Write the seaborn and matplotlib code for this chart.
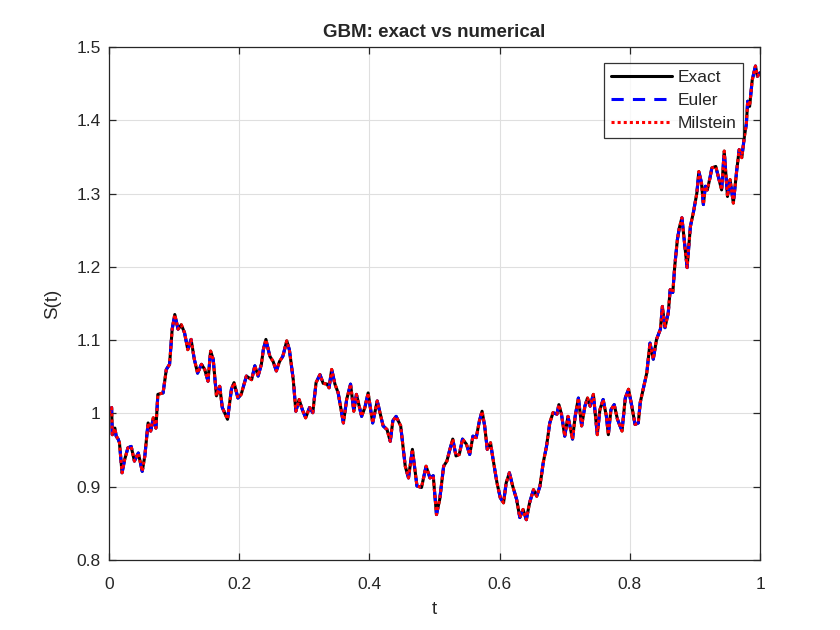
import numpy as np
import pandas as pd
import matplotlib
matplotlib.use('Agg')
import matplotlib.pyplot as plt
import seaborn as sns

# time grid and price path
t = [0.000, 0.004, 0.005, 0.009, 0.011, 0.014, 0.016, 0.020, 0.024, 0.029,
     0.034, 0.039, 0.045, 0.051, 0.055, 0.060, 0.064, 0.068, 0.072, 0.075,
     0.083, 0.088, 0.093, 0.097, 0.101, 0.106, 0.111, 0.116, 0.121, 0.126,
     0.131, 0.136, 0.142, 0.147, 0.152, 0.156, 0.160, 0.165, 0.170, 0.174,
     0.182, 0.188, 0.192, 0.198, 0.203, 0.211, 0.219, 0.224, 0.229, 0.234,
     0.237, 0.241, 0.247, 0.252, 0.257, 0.262, 0.267, 0.273, 0.277, 0.283,
     0.287, 0.292, 0.297, 0.302, 0.308, 0.313, 0.318, 0.324, 0.329, 0.335,
     0.338, 0.342, 0.347, 0.352, 0.360, 0.365, 0.371, 0.376, 0.380, 0.388,
     0.393, 0.398, 0.405, 0.412, 0.421, 0.427, 0.432, 0.436, 0.441, 0.448,
     0.455, 0.460, 0.466, 0.473, 0.480, 0.487, 0.493, 0.498, 0.503, 0.508,
     0.514, 0.519, 0.523, 0.528, 0.533, 0.538, 0.543, 0.549, 0.554, 0.559,
     0.564, 0.569, 0.573, 0.577, 0.581, 0.586, 0.590, 0.596, 0.601, 0.606,
     0.610, 0.615, 0.620, 0.626, 0.631, 0.636, 0.641, 0.646, 0.652, 0.657,
     0.662, 0.667, 0.672, 0.677, 0.682, 0.688, 0.691, 0.695, 0.700, 0.705,
     0.712, 0.716, 0.721, 0.726, 0.731, 0.735, 0.739, 0.744, 0.750, 0.754,
     0.759, 0.764, 0.767, 0.771, 0.776, 0.781, 0.788, 0.793, 0.798, 0.803,
     0.808, 0.813, 0.816, 0.821, 0.826, 0.831, 0.836, 0.841, 0.847, 0.850,
     0.854, 0.859, 0.862, 0.866, 0.869, 0.873, 0.876, 0.880, 0.884, 0.888,
     0.893, 0.898, 0.903, 0.906, 0.910, 0.913, 0.916, 0.919, 0.923, 0.926,
     0.932, 0.937, 0.941, 0.945, 0.950, 0.954, 0.959, 0.964, 0.968, 0.972,
     0.976, 0.979, 0.981, 0.984, 0.988, 0.993, 0.996, 1.000]

s_exact = [1.000, 1.008, 0.971, 0.980, 0.969, 0.965, 0.960, 0.919, 0.937, 0.953,
           0.955, 0.935, 0.946, 0.921, 0.942, 0.987, 0.976, 0.994, 0.980, 1.026,
           1.028, 1.060, 1.067, 1.115, 1.135, 1.115, 1.121, 1.110, 1.087, 1.101,
           1.074, 1.055, 1.067, 1.060, 1.044, 1.085, 1.074, 1.024, 1.037, 1.008,
           0.992, 1.033, 1.042, 1.021, 1.026, 1.051, 1.046, 1.065, 1.051, 1.067,
           1.087, 1.101, 1.078, 1.071, 1.058, 1.071, 1.078, 1.099, 1.087, 1.046,
           1.003, 1.019, 1.005, 0.994, 1.008, 1.001, 1.042, 1.053, 1.041, 1.040,
           1.035, 1.060, 1.040, 1.028, 0.987, 1.019, 1.040, 1.003, 1.026, 0.996,
           1.008, 1.028, 0.987, 1.017, 0.983, 0.978, 0.962, 0.990, 0.996, 0.983,
           0.928, 0.912, 0.951, 0.901, 0.899, 0.928, 0.912, 0.915, 0.862, 0.883,
           0.928, 0.935, 0.949, 0.965, 0.942, 0.944, 0.965, 0.958, 0.944, 0.969,
           0.967, 0.990, 1.003, 0.983, 0.951, 0.960, 0.937, 0.905, 0.885, 0.878,
           0.905, 0.919, 0.901, 0.883, 0.858, 0.869, 0.855, 0.878, 0.896, 0.887,
           0.901, 0.933, 0.955, 0.987, 1.001, 0.999, 1.012, 0.999, 0.969, 0.996,
           0.965, 0.996, 1.021, 0.983, 1.010, 1.021, 1.010, 1.026, 0.971, 1.005,
           1.019, 0.996, 0.971, 1.005, 1.012, 0.992, 0.976, 1.021, 1.033, 1.010,
           0.985, 0.987, 1.015, 1.035, 1.055, 1.096, 1.074, 1.101, 1.115, 1.146,
           1.117, 1.137, 1.169, 1.165, 1.201, 1.237, 1.253, 1.267, 1.233, 1.199,
           1.255, 1.276, 1.301, 1.330, 1.315, 1.285, 1.310, 1.305, 1.321, 1.335,
           1.337, 1.319, 1.305, 1.358, 1.296, 1.319, 1.287, 1.330, 1.360, 1.349,
           1.378, 1.395, 1.426, 1.419, 1.455, 1.474, 1.460, 1.465]

# the numerical schemes sit on top of the exact path at this resolution
s_euler = list(s_exact)
s_milstein = list(s_exact)

df = pd.DataFrame({'t': t, 'Exact': s_exact, 'Euler': s_euler, 'Milstein': s_milstein})

sns.set_theme(style='white')
plt.rcParams['font.family'] = ['Liberation Sans', 'DejaVu Sans']

fig = plt.figure(figsize=(8.4, 6.3), dpi=100)
ax = fig.add_axes([0.1298, 0.1111, 0.775, 0.8143])

sns.lineplot(data=df, x='t', y='Exact', ax=ax, color='black', linewidth=2.2,
             label='Exact', sort=False)
sns.lineplot(data=df, x='t', y='Euler', ax=ax, color='#0000ff', linewidth=2.2,
             linestyle=(0, (4, 3)), label='Euler', sort=False)
sns.lineplot(data=df, x='t', y='Milstein', ax=ax, color='#ff0000', linewidth=2.2,
             linestyle=(0, (1, 1)), label='Milstein', sort=False)

ax.set_xlim(0, 1)
ax.set_ylim(0.8, 1.5)
ax.set_xticks([0, 0.2, 0.4, 0.6, 0.8, 1])
ax.set_xticklabels(['0', '0.2', '0.4', '0.6', '0.8', '1'])
ax.set_yticks([0.8, 0.9, 1.0, 1.1, 1.2, 1.3, 1.4, 1.5])
ax.set_yticklabels(['0.8', '0.9', '1', '1.1', '1.2', '1.3', '1.4', '1.5'])

ax.grid(True, color='#dfdfdf', linewidth=0.8)
ax.set_axisbelow(True)
for sp in ax.spines.values():
    sp.set_color('#262626')
    sp.set_linewidth(0.9)
ax.tick_params(direction='in', length=5, width=0.9, color='#262626',
               labelsize=12.5, labelcolor='#262626', top=True, right=True,
               bottom=True, left=True)
ax.tick_params(axis='x', pad=12)
ax.tick_params(axis='y', pad=6)

ax.set_xlabel('t', fontsize=13.5, color='#262626', labelpad=7)
ax.set_ylabel('S(t)', fontsize=13.5, color='#262626', labelpad=11)
ax.set_title('GBM: exact vs numerical', fontsize=13.5, fontweight='bold', pad=7)

leg = ax.legend(loc='upper right', bbox_to_anchor=(0.974, 0.969), borderaxespad=0,
                fontsize=12.5, frameon=True, fancybox=False, handlelength=3.5,
                handletextpad=0.3, borderpad=0.4, labelspacing=0.45)
leg.get_frame().set_edgecolor('black')
leg.get_frame().set_linewidth(0.9)

fig.savefig('out.png', dpi=100)
